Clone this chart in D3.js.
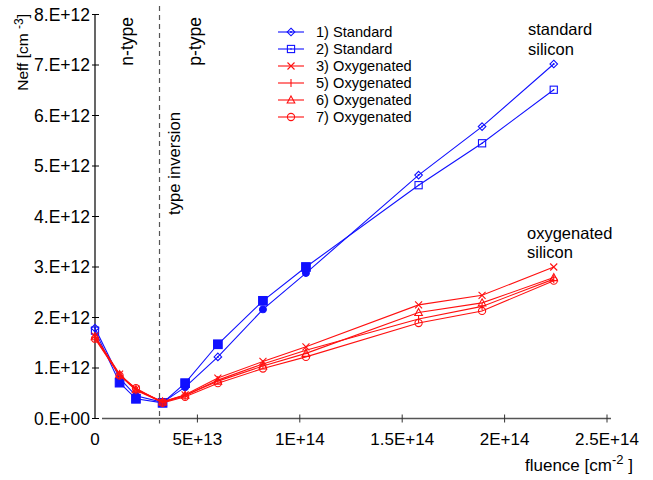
<!DOCTYPE html>
<html>
<head>
<meta charset="utf-8">
<script src="https://cdn.jsdelivr.net/npm/d3@7"></script>
<style>
  body { margin: 0; background: #fff; }
  svg { font-family: "Liberation Sans", Arial, Helvetica, sans-serif; }
</style>
</head>
<body>
<svg id="chart" width="653" height="480"></svg>
<script>
// fluence values [cm^-2] shared by every series
const fluence = [0, 1.2e13, 2.0e13, 3.3e13, 4.4e13, 6.0e13, 8.2e13, 1.03e14, 1.58e14, 1.89e14, 2.24e14];

// Neff values in units of 1E+12 cm^-3
const std1 = [1.79, 0.80, 0.45, 0.32, 0.62, 1.22, 2.16, 2.88, 4.82, 5.78, 7.02];
const std2 = [1.74, 0.71, 0.39, 0.31, 0.70, 1.47, 2.33, 3.00, 4.62, 5.45, 6.51];
const oxy3 = [1.63, 0.88, 0.58, 0.33, 0.47, 0.80, 1.13, 1.42, 2.25, 2.44, 3.00];
const oxy5 = [1.60, 0.86, 0.56, 0.32, 0.45, 0.76, 1.08, 1.35, 1.97, 2.22, 2.76];
const oxy6 = [1.62, 0.87, 0.57, 0.33, 0.46, 0.74, 1.04, 1.29, 2.10, 2.29, 2.79];
const oxy7 = [1.58, 0.85, 0.60, 0.31, 0.43, 0.70, 0.99, 1.22, 1.89, 2.13, 2.73];

const seriesNames = ["1) Standard", "2) Standard", "3) Oxygenated", "5) Oxygenated", "6) Oxygenated", "7) Oxygenated"];

const yTicks = [0, 1e12, 2e12, 3e12, 4e12, 5e12, 6e12, 7e12, 8e12];
const yTickLabels = ["0.E+00", "1.E+12", "2.E+12", "3.E+12", "4.E+12", "5.E+12", "6.E+12", "7.E+12", "8.E+12"];
const xTicks = [0, 5e13, 1e14, 1.5e14, 2e14, 2.5e14];
const xTickLabels = ["0", "5E+13", "1E+14", "1.5E+14", "2E+14", "2.5E+14"];

const inversionFluence = 3.15e13;

const BLUE = "#1010ff", RED = "#ff1010";

const svg = d3.select("#chart");

const x = d3.scaleLinear().domain([0, 2.5e14]).range([95, 607]);
const y = d3.scaleLinear().domain([0, 8e12]).range([418.5, 14.5]);

const series = [
  { name: seriesNames[0], vals: std1, color: BLUE, marker: "diamond" },
  { name: seriesNames[1], vals: std2, color: BLUE, marker: "square" },
  { name: seriesNames[2], vals: oxy3, color: RED, marker: "cross" },
  { name: seriesNames[3], vals: oxy5, color: RED, marker: "plus" },
  { name: seriesNames[4], vals: oxy6, color: RED, marker: "triangle" },
  { name: seriesNames[5], vals: oxy7, color: RED, marker: "circle" }
];

// draws one marker into group g at (0,0)
function drawMarker(g, type, color, filled) {
  const s = g.append("g").attr("fill", "none").attr("stroke", color).attr("stroke-width", 1.1);
  if (type === "diamond") {
    if (filled) {
      s.append("circle").attr("r", 3.4).attr("fill", color);
    } else {
      s.append("path").attr("d", "M0,-3.8L3.8,0L0,3.8L-3.8,0Z");
      s.append("circle").attr("r", 1).attr("fill", color).attr("stroke", "none");
    }
  } else if (type === "square") {
    if (filled) s.append("rect").attr("x", -4.3).attr("y", -4.3).attr("width", 8.6).attr("height", 8.6).attr("fill", color);
    else {
      s.append("rect").attr("x", -3.6).attr("y", -3.6).attr("width", 7.2).attr("height", 7.2);
      s.append("circle").attr("r", 0.8).attr("fill", color).attr("stroke", "none");
    }
  } else if (type === "cross") {
    s.append("path").attr("d", "M-3.5,-3.5L3.5,3.5M-3.5,3.5L3.5,-3.5");
  } else if (type === "plus") {
    s.append("path").attr("d", "M0,-4L0,4");
  } else if (type === "triangle") {
    s.append("path").attr("d", "M0,-4L3.8,3L-3.8,3Z");
  } else if (type === "circle") {
    s.append("circle").attr("r", 3.6);
  }
}

// Y axis
const yAxis = svg.append("g").attr("transform", `translate(${x(0)},0)`);
yAxis.append("line").attr("x1", 0).attr("x2", 0).attr("y1", y(8e12)).attr("y2", y(0))
  .attr("stroke", "#000").attr("stroke-width", 1.2);
yTicks.forEach((t, i) => {
  yAxis.append("line").attr("x1", -3).attr("x2", 4).attr("y1", y(t)).attr("y2", y(t))
    .attr("stroke", "#000");
  yAxis.append("text").attr("x", -5).attr("y", y(t)).attr("dy", "0.35em")
    .attr("text-anchor", "end").style("font-size", "17.5px").text(yTickLabels[i]);
});

// X axis
const xAxis = svg.append("g").attr("transform", `translate(0,${y(0)})`);
xAxis.append("line").attr("x1", 102).attr("x2", 611).attr("y1", 0).attr("y2", 0)
  .attr("stroke", "#555").attr("stroke-width", 1.3);
xTicks.forEach((t, i) => {
  if (t > 0) {
    xAxis.append("line").attr("x1", x(t)).attr("x2", x(t)).attr("y1", -4).attr("y2", 4)
      .attr("stroke", "#333");
  }
  xAxis.append("text").attr("x", x(t)).attr("y", 26)
    .attr("text-anchor", "middle").style("font-size", "17px").text(xTickLabels[i]);
});

// axis titles
const yTitle = svg.append("text").attr("transform", "translate(28,14) rotate(-90)")
  .attr("text-anchor", "end").style("font-size", "15.5px");
yTitle.append("tspan").text("Neff [cm ");
yTitle.append("tspan").attr("dy", -5).style("font-size", "12px").text("-3");
yTitle.append("tspan").attr("dy", 5).text("]");

const xTitle = svg.append("text").attr("x", 525).attr("y", 471).style("font-size", "17px");
xTitle.append("tspan").text("fluence [cm");
xTitle.append("tspan").attr("dy", -7).style("font-size", "13px").text("-2");
xTitle.append("tspan").attr("dy", 7).text(" ]");

// type inversion line
svg.append("line").attr("x1", x(inversionFluence)).attr("x2", x(inversionFluence))
  .attr("y1", 6).attr("y2", y(0) + 5)
  .attr("stroke", "#555").attr("stroke-width", 1.2).attr("stroke-dasharray", "5,4");

function vText(label, px, py, size) {
  svg.append("text").attr("transform", `translate(${px},${py}) rotate(-90)`)
    .attr("text-anchor", "end").style("font-size", size + "px").text(label);
}
vText("n-type", 133, 17, 17.5);
vText("p-type", 201, 17, 17.5);
vText("type inversion", 180, 112, 16.7);

// series lines and markers
const line = d3.line().x(d => x(d[0])).y(d => y(d[1]));
series.forEach(s => {
  const pts = fluence.map((f, i) => [f, s.vals[i] * 1e12]);
  svg.append("path").datum(pts).attr("d", line)
    .attr("fill", "none").attr("stroke", s.color).attr("stroke-width", 1.1);
  pts.forEach(p => {
    const filled = s.color === BLUE && p[0] > 1e13 && p[0] < 1.1e14 &&
      !(s.marker === "diamond" && p[0] > 5e13 && p[0] < 7e13);
    const g = svg.append("g").attr("transform", `translate(${x(p[0])},${y(p[1])})`);
    drawMarker(g, s.marker, s.color, filled);
  });
});

// legend
const legend = svg.append("g");
series.forEach((s, i) => {
  const ly = 32 + i * 17;
  legend.append("line").attr("x1", 278).attr("x2", 304).attr("y1", ly).attr("y2", ly)
    .attr("stroke", s.color).attr("stroke-width", 1.1);
  const g = legend.append("g").attr("transform", `translate(291,${ly})`);
  drawMarker(g, s.marker, s.color, false);
  legend.append("text").attr("x", 316).attr("y", ly).attr("dy", "0.35em")
    .style("font-size", "14.6px").text(s.name);
});

// group annotations, two stacked lines
function label2(lines, px, py) {
  lines.forEach((l, i) => {
    svg.append("text").attr("x", px).attr("y", py + i * 19.5)
      .style("font-size", "16.5px").text(l);
  });
}
label2(["standard", "silicon"], 528, 35);
label2(["oxygenated", "silicon"], 527, 238.5);
</script>
</body>
</html>
